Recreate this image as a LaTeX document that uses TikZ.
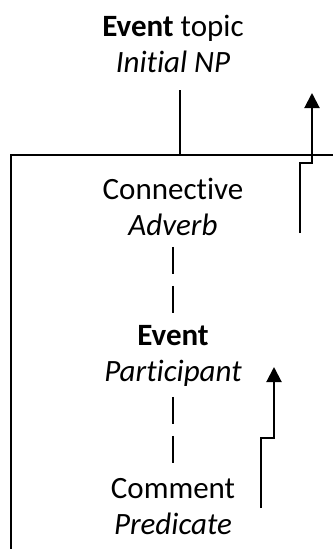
\documentclass[tikz,border=0pt]{standalone}
\usepackage{fontspec}
\setmainfont{Carlito}[Ligatures=NoCommon]
\usetikzlibrary{arrows.meta,positioning,calc}
\tikzstyle{lbl} = [align=center, inner sep=0pt, font=\fontsize{31}{36}\selectfont]
\tikzstyle{steparrow} = [line width=2pt, -{Triangle[width=15pt,length=15pt]}]
\tikzstyle{dashlink} = [line width=2pt, dash pattern=on 27pt off 12pt]

\begin{document}
\begin{tikzpicture}[x=1pt,y=-1pt]
\useasboundingbox (0,0) rectangle (333,549);
\node[lbl] (topic) at (173,44) {\textbf{Event} topic\\\textit{Initial NP}};
\node[lbl] (connective) at (173,207) {Connective\\\textit{Adverb}};
\node[lbl] (event) at (173,356) {\textbf{Event}\\\textit{Participant}};
\node[lbl] (comment) at (173,507) {Comment\\\textit{Predicate}};
% frame
\coordinate (joint) at (180,155);
\draw[line width=2pt] (11,549) -- (11,155) -- (333,155);
\draw[line width=2pt, shorten >=17pt] (joint) -- (joint |- topic.south);
% links
\draw[dashlink, shorten <=11pt, shorten >=10pt] (connective) -- (event);
\draw[dashlink, shorten <=10pt, shorten >=9pt] (event) -- (comment);
% arrows
\coordinate (a1) at (300,233);
\coordinate (a2) at (261,508);
\draw[steparrow] (a1) -- ++(0,-70) -- ++(12,0) -- ++(0,-70);
\draw[steparrow] (a2) -- ++(0,-70) -- ++(13,0) -- ++(0,-71);
\end{tikzpicture}
\end{document}
